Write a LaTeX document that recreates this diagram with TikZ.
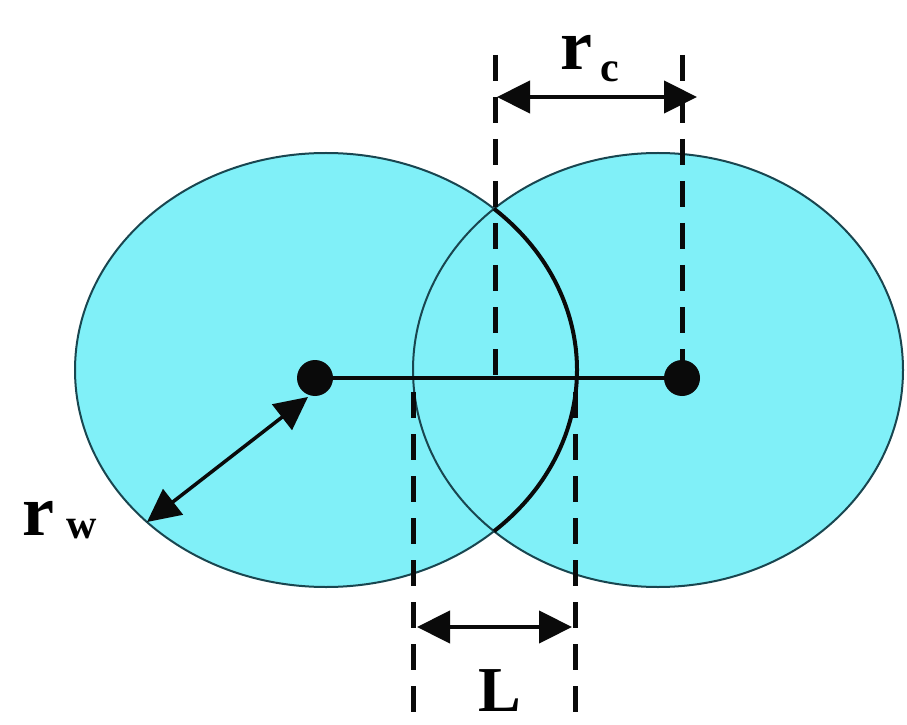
\documentclass[tikz,border=0pt]{standalone}
\usepackage{fontspec}
\setmainfont{Liberation Serif}
\usetikzlibrary{arrows.meta}
\definecolor{cyanfill}{RGB}{128,240,248}
\definecolor{rim}{RGB}{25,70,80}
\definecolor{ink}{RGB}{10,10,10}
\tikzset{
 dim/.style={draw=ink, line width=4.5pt, {Triangle[length=33pt,width=32pt]}-{Triangle[length=33pt,width=32pt]}},
 guide/.style={draw=ink, line width=5pt, dash pattern=on 26pt off 16pt},
 dotnode/.style={circle, fill=ink, inner sep=0pt, minimum size=36pt},
 lbl/.style={font=\bfseries\fontsize{72}{72}\selectfont, inner sep=0pt, anchor=base west},
 sublbl/.style={font=\bfseries\fontsize{42}{42}\selectfont, inner sep=0pt, anchor=base west},
 rimline/.style={draw=rim, line width=2pt},
}
\begin{document}
\begin{tikzpicture}[x=1pt,y=1pt]
\useasboundingbox (0,0) rectangle (907,724);
\fill[white] (0,0) rectangle (907,724);
\coordinate (C1) at (326,354);
\coordinate (C2) at (658,354);
\fill[cyanfill] (C1) ellipse [x radius=251, y radius=217];
\fill[cyanfill] (C2) ellipse [x radius=245, y radius=217];
\draw[rimline] (C1) ellipse [x radius=251, y radius=217];
\draw[rimline] (C2) ellipse [x radius=245, y radius=217];
\coordinate (I1) at (493.95,515.26);
\draw[ink, line width=4pt] (I1) arc[start angle=48, end angle=-48, x radius=251, y radius=217];
% centres
\node[dotnode] (P) at (315,346) {};
\node[dotnode] (Q) at (682,346) {};
\draw[ink, line width=4.5pt] (P.center) -- (Q.center);
% guide lines
\coordinate (a1) at (495,669); \coordinate (a2) at (495,346);
\coordinate (b1) at (682,669);
\coordinate (c1) at (413,332); \coordinate (c2) at (413,9);
\coordinate (d1) at (575,332); \coordinate (d2) at (575,9);
\draw[guide] (a1) -- (a2);
\draw[guide] (b1) -- (Q.center);
\draw[guide] (c1) -- (c2);
\draw[guide] (d1) -- (d2);
% dimension arrows
\coordinate (rc1) at (497,627); \coordinate (rc2) at (697,627);
\coordinate (L1) at (417,97); \coordinate (L2) at (572,97);
\coordinate (rw1) at (147,202); \coordinate (rw2) at (308,327);
\draw[dim] (rc1) -- (rc2);
\draw[dim] (L1) -- (L2);
\draw[dim, line width=3.5pt] (rw1) -- (rw2);
% labels
\node[lbl] (rcr) at (560,654) {r};
\node[sublbl] (rcc) at (600,642) {c};
\node[lbl] (rwr) at (22,189) {r};
\node[sublbl] (rww) at (66,186) {w};
\node[lbl, font=\bfseries\fontsize{64}{64}\selectfont] (Ll) at (478,13) {L};
\end{tikzpicture}
\end{document}
